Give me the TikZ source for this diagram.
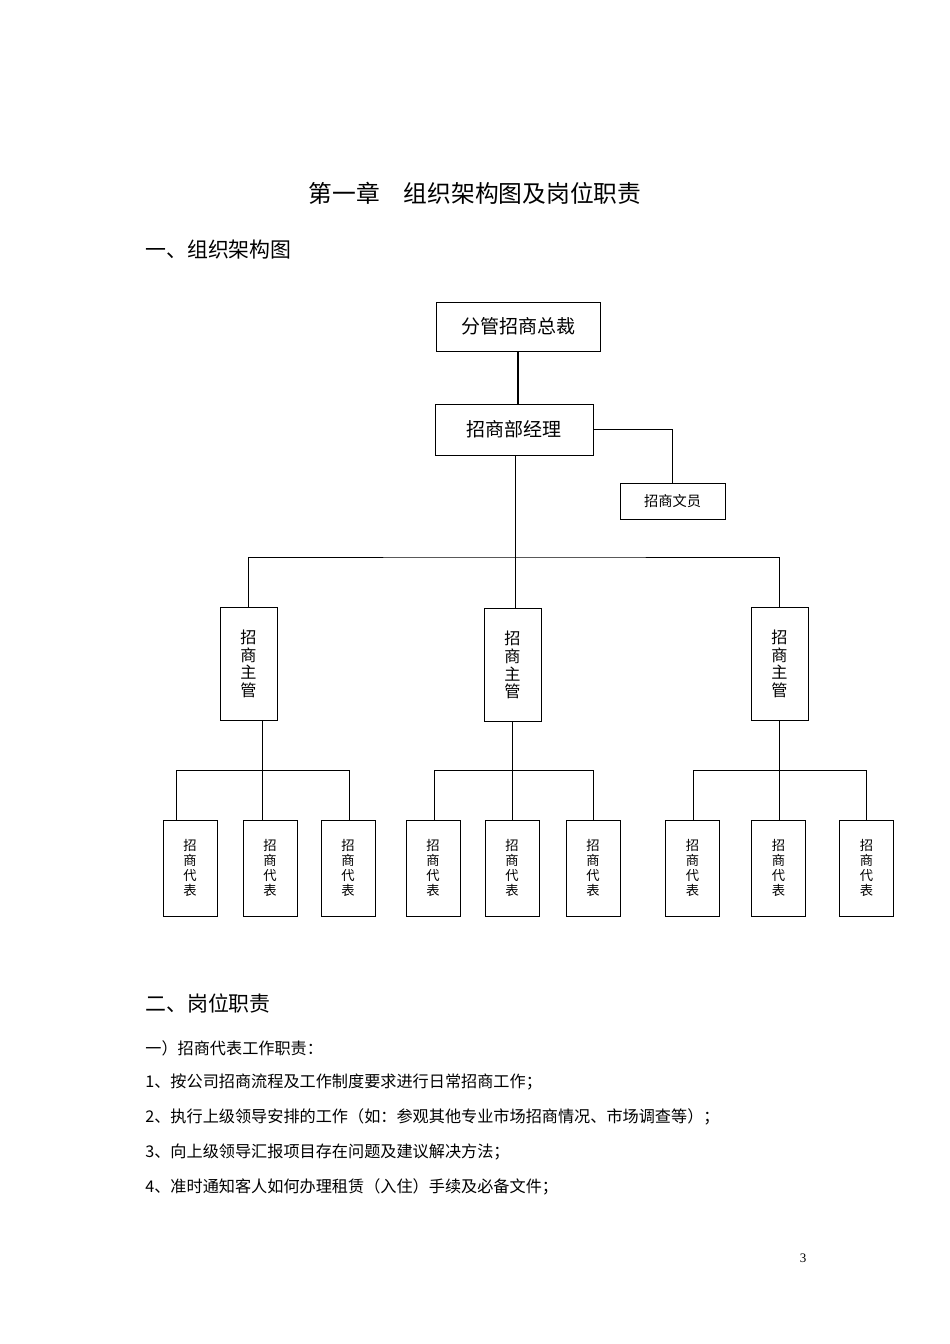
\documentclass[tikz,border=0pt]{standalone}
\usepackage{fontspec}
\setmainfont{Liberation Serif}
\newfontfamily\cjk{Noto Sans CJK SC}[Scale=0.95]
\tikzset{every picture/.style={line width=0.75pt}}
\tikzset{
  box/.style={draw, inner sep=0pt, font=\cjk},
  vbox/.style={box, align=center, font=\cjk\fontsize{15}{17}\selectfont},
  rep/.style={vbox, minimum width=54pt, minimum height=96pt, font=\cjk\fontsize{14}{16}\selectfont},
  sup/.style={vbox, minimum width=57pt, minimum height=113pt, font=\cjk\fontsize{17}{18}\selectfont},
  txt/.style={anchor=west, inner sep=0pt, font=\cjk\fontsize{17}{20}\selectfont}
}
\newcommand{\vtext}[1]{\shortstack{#1}}

\begin{document}
\begin{tikzpicture}[x=1pt,y=1pt,yscale=-1,xscale=1]
\useasboundingbox (0,0) rectangle (950,1344);

% Text Node
\node [inner sep=0pt, font=\cjk\fontsize{25}{28}\selectfont] (title) at (475,193) {第一章\quad 组织架构图及岗位职责};
\node [txt, font=\cjk\fontsize{22}{24}\selectfont] (sec1) at (145,250) {一、组织架构图};

%Boxes, top levels
\node [box, minimum width=164pt, minimum height=49pt, font=\cjk\fontsize{20}{22}\selectfont] (pres) at (518,326.5) {分管招商总裁};
\node [box, minimum width=158pt, minimum height=51pt, font=\cjk\fontsize{20}{22}\selectfont] (mgr) at (514,429.5) {招商部经理};
\node [box, minimum width=105pt, minimum height=36pt, font=\cjk\fontsize{15}{17}\selectfont] (clerk) at (672.5,501) {招商文员};

\draw [line width=2pt] (pres.south) -- (pres.south |- mgr.north);
\draw (mgr.east) -| (clerk.north);

%Supervisors
\node [sup] (s1) at (248.5,663.5) {\vtext{招\\商\\主\\管}};
\node [sup] (s2) at (512.5,665) {\vtext{招\\商\\主\\管}};
\node [sup] (s3) at (779.5,663.5) {\vtext{招\\商\\主\\管}};
\coordinate (bar) at (515,557);
\draw (bar |- mgr.south) -- (bar);
\draw (s1.north) |- (bar) -| (s3.north);
\draw (bar) -- (bar |- s2.north);

%Representatives
\foreach \g/\xa/\xb/\xc in {1/190/270/348, 2/433/512/593, 3/692.5/778.5/866.5} {
  \node [rep] (r\g a) at (\xa,868) {\vtext{招\\商\\代\\表}};
  \node [rep] (r\g b) at (\xb,868) {\vtext{招\\商\\代\\表}};
  \node [rep] (r\g c) at (\xc,868) {\vtext{招\\商\\代\\表}};
}
\foreach \g/\xa/\xm/\xc in {1/176/262/349, 2/434/512/593, 3/693/779/866} {
  \coordinate (b\g) at (\xm,770);
  \draw (b\g |- s\g.south) -- (b\g);
  \draw (\xa,820) |- (b\g) -| (\xc,820);
  \draw (b\g) -- (\xm,820);
}

% Text Node
\node [txt, font=\cjk\fontsize{22}{24}\selectfont] (sec2) at (145,1003) {二、岗位职责};
\node [txt] (l0) at (145,1048) {一）招商代表工作职责：};
\node [txt] (l1) at (145,1082) {1、按公司招商流程及工作制度要求进行日常招商工作；};
\node [txt] (l2) at (145,1117) {2、执行上级领导安排的工作（如：参观其他专业市场招商情况、市场调查等）；};
\node [txt] (l3) at (145,1152) {3、向上级领导汇报项目存在问题及建议解决方法；};
\node [txt] (l4) at (145,1187) {4、准时通知客人如何办理租赁（入住）手续及必备文件；};
\node [inner sep=0pt, font=\fontsize{13}{15}\selectfont] (page) at (803,1258) {3};
\end{tikzpicture}
\end{document}
